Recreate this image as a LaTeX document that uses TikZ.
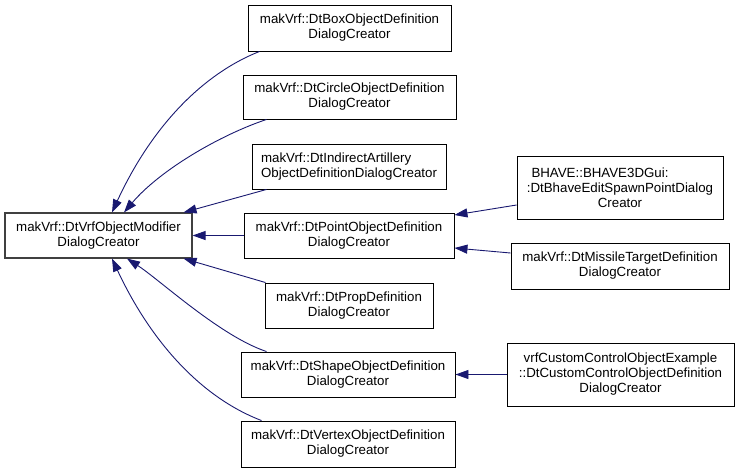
\documentclass[tikz,border=0pt]{standalone}
\usepackage{fontspec}
\setmainfont{Liberation Sans}
\usetikzlibrary{arrows.meta}
\definecolor{edgeblue}{HTML}{191970}
\begin{document}
\begin{tikzpicture}[x=1pt,y=-1pt,
  box/.style={draw=black, line width=0.9pt, fill=white, rectangle, inner sep=0pt,
    align=center, font=\fontsize{13.3}{15}\selectfont},
  rootbox/.style={box, draw=black!75, line width=1.1pt},
  edge/.style={draw=edgeblue, line width=0.9pt, -{Triangle[length=13pt,width=9pt]}}]
\useasboundingbox (0,0) rectangle (739,472);

\node[rootbox, minimum width=187pt, minimum height=45pt] (root) at (98.5,235.5)
  {makVrf::DtVrfObjectModifier\\DialogCreator};
\node[box, minimum width=203pt, minimum height=46pt] (b1) at (349.5,28)
  {makVrf::DtBoxObjectDefinition\\DialogCreator};
\node[box, minimum width=213pt, minimum height=44pt] (b2) at (349.5,97)
  {makVrf::DtCircleObjectDefinition\\DialogCreator};
\node[box, align=left, minimum width=194pt, minimum height=45pt] (b3) at (349,166.5)
  {makVrf::DtIndirectArtillery\\ObjectDefinitionDialogCreator};
\node[box, minimum width=210pt, minimum height=45pt] (b4) at (349,235.5)
  {makVrf::DtPointObjectDefinition\\DialogCreator};
\node[box, minimum width=168pt, minimum height=45pt] (b5) at (349,305.5)
  {makVrf::DtPropDefinition\\DialogCreator};
\node[box, minimum width=214pt, minimum height=45pt] (b6) at (348,374.5)
  {makVrf::DtShapeObjectDefinition\\DialogCreator};
\node[box, minimum width=214pt, minimum height=46pt] (b7) at (348,444)
  {makVrf::DtVertexObjectDefinition\\DialogCreator};
\node[box, minimum width=206pt, minimum height=63pt] (b8) at (620,187.5)
  {BHAVE::BHAVE3DGui:\hspace*{40pt}\\:DtBhaveEditSpawnPointDialog\\Creator};
\node[box, minimum width=218pt, minimum height=46pt] (b9) at (620,266)
  {makVrf::DtMissileTargetDefinition\\DialogCreator};
\node[box, minimum width=227pt, minimum height=63pt] (b10) at (620.5,374.5)
  {vrfCustomControlObjectExample\\::DtCustomControlObjectDefinition\\DialogCreator};

\draw[edge] ([xshift=12pt]b1.south west) .. controls (200,75) and (150,130) .. ([xshift=13.5pt]root.north);
\draw[edge] ([xshift=24pt]b2.south west) .. controls (220,135) and (160,170) .. ([xshift=25.5pt]root.north);
\draw[edge] ([xshift=15pt]b3.south west) -- ([xshift=-9pt]root.north east);
\draw[edge] (b4.west) -- (root.east);
\draw[edge] ([xshift=1pt]b5.north west) -- ([xshift=-9pt]root.south east);
\draw[edge] ([xshift=26pt]b6.north west) .. controls (220,336) and (160,280) .. ([xshift=28.5pt]root.south);
\draw[edge] ([xshift=21pt]b7.north west) .. controls (200,397) and (150,340) .. ([xshift=13.5pt]root.south);
\draw[edge] ([yshift=-17.5pt]b8.west) -- ([yshift=20.5pt]b4.east);
\draw[edge] ([yshift=13pt]b9.west) -- ([yshift=-12.5pt]b4.east);
\draw[edge] (b10.west) -- (b6.east);
\end{tikzpicture}
\end{document}
